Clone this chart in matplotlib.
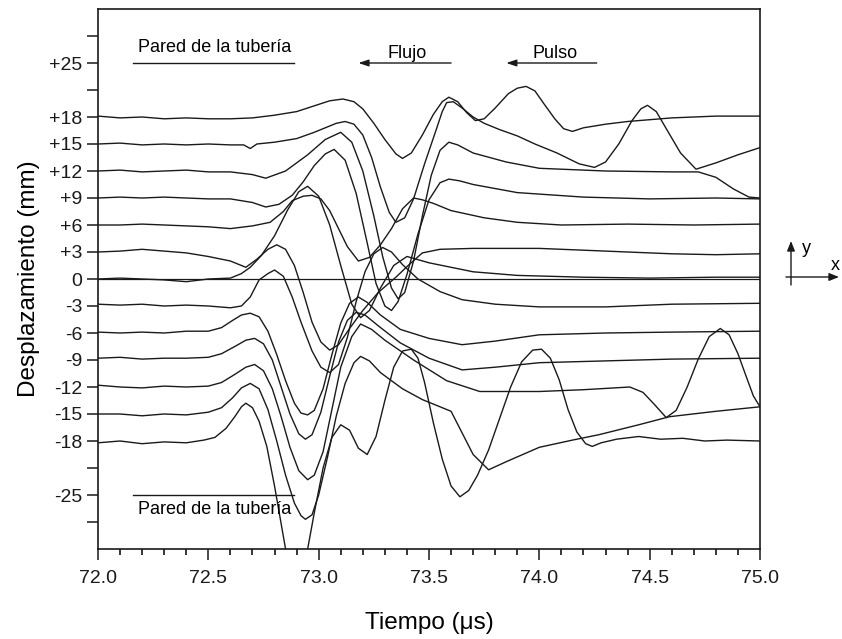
import matplotlib
matplotlib.use("Agg")
import matplotlib.pyplot as plt
from matplotlib.ticker import MultipleLocator, FormatStrFormatter
from matplotlib.patches import FancyArrowPatch

plt.rcParams['font.family'] = ['Liberation Sans', 'DejaVu Sans']

# ---------------- data ----------------
ytick_pos = [-27, -24, -21, -18, -15, -12, -9, -6, -3, 0, 3, 6, 9, 12, 15, 18, 21, 24, 27]
ytick_lab = ['', '-25', '', '-18', '-15', '-12', '-9', '-6', '-3', '0',
             '+3', '+6', '+9', '+12', '+15', '+18', '', '+25', '']

t_p18 = [72.0, 72.1, 72.2, 72.3, 72.4, 72.5, 72.6, 72.7, 72.8, 72.9, 72.95, 73.0, 73.05, 73.11, 73.16, 73.2,
         73.25, 73.3, 73.35, 73.38, 73.42, 73.47, 73.52, 73.56, 73.59, 73.63, 73.67, 73.71, 73.75, 73.8, 73.86,
         73.9, 73.94, 73.98, 74.02, 74.07, 74.11, 74.15, 74.2, 74.3, 74.4, 74.5, 74.6, 74.7, 74.8, 74.9, 75.0]
y_p18 = [18.1, 17.9, 18.0, 17.8, 17.9, 17.8, 17.8, 17.9, 18.2, 18.6, 19.0, 19.4, 19.8, 20.0, 19.7, 18.9,
         17.3, 15.5, 13.9, 13.4, 14.0, 16.0, 18.3, 19.7, 20.2, 19.7, 18.5, 17.6, 17.8, 19.0, 20.6,
         21.2, 21.4, 20.9, 19.5, 17.8, 16.7, 16.4, 16.8, 17.2, 17.5, 17.7, 17.9, 18.0, 18.1, 18.1, 18.1]

t_p15 = [72.0, 72.1, 72.2, 72.3, 72.4, 72.5, 72.6, 72.66, 72.69, 72.72, 72.8, 72.9, 72.98, 73.04, 73.08, 73.12,
         73.16, 73.2, 73.24, 73.28, 73.32, 73.35, 73.39, 73.43, 73.48, 73.53, 73.56, 73.58, 73.61, 73.65, 73.7,
         73.75, 73.82, 73.9, 73.98, 74.08, 74.18, 74.25, 74.3, 74.36, 74.42, 74.46, 74.49, 74.53, 74.58, 74.64,
         74.71, 74.8, 74.9, 75.0]
y_p15 = [15.0, 15.1, 14.9, 15.0, 14.9, 15.0, 14.9, 14.9, 14.5, 15.0, 15.2, 15.6, 16.3, 16.9, 17.3, 17.5,
         17.2, 16.0, 13.5, 10.2, 7.4, 6.3, 6.8, 8.9, 12.8, 16.4, 18.6, 19.6, 19.7, 19.0, 18.0,
         17.3, 16.6, 15.9, 15.0, 14.0, 12.8, 12.4, 13.0, 15.0, 17.6, 18.9, 19.3, 18.6, 16.5, 14.0,
         12.2, 12.9, 13.8, 14.6]

t_p12 = [72.0, 72.1, 72.2, 72.3, 72.4, 72.5, 72.6, 72.7, 72.76, 72.85, 72.95, 73.03, 73.1, 73.15, 73.2, 73.25,
         73.29, 73.33, 73.36, 73.39, 73.43, 73.47, 73.51, 73.55, 73.59, 73.63, 73.7, 73.85, 74.0, 74.3, 74.6,
         74.72, 74.8, 74.88, 74.95, 75.0]
y_p12 = [12.0, 12.1, 11.9, 12.0, 12.1, 11.9, 11.9, 11.6, 11.2, 12.0, 13.8, 15.5, 16.3, 15.2, 12.0, 7.0,
         2.5, -1.0, -2.2, -1.5, 2.0, 7.0, 11.5, 14.3, 15.2, 14.9, 14.0, 13.0, 12.3, 12.0, 11.9,
         11.9, 11.3, 10.0, 9.1, 9.0]

t_p9 = [72.0, 72.1, 72.2, 72.3, 72.4, 72.5, 72.6, 72.7, 72.76, 72.82, 72.88, 72.93, 72.98, 73.03, 73.07, 73.12,
        73.17, 73.22, 73.26, 73.3, 73.33, 73.36, 73.4, 73.45, 73.5, 73.55, 73.59, 73.64, 73.7, 73.9, 74.2,
        74.5, 74.8, 75.0]
y_p9 = [9.0, 9.1, 9.0, 9.1, 9.0, 8.9, 8.9, 8.5, 8.0, 8.3, 9.3, 10.8, 12.6, 13.9, 14.4, 13.2,
        9.5, 4.0, -0.5, -3.0, -3.5, -2.5, 0.5, 5.0, 8.8, 10.7, 11.1, 10.9, 10.5, 9.6, 9.1,
        8.9, 9.0, 8.9]

t_p6 = [72.0, 72.1, 72.2, 72.3, 72.4, 72.5, 72.6, 72.7, 72.78, 72.84, 72.88, 72.93, 72.97, 73.01, 73.05, 73.09,
        73.13, 73.18, 73.23, 73.28, 73.33, 73.38, 73.43, 73.47, 73.52, 73.6, 73.75, 73.9, 74.1, 74.4, 74.7, 75.0]
y_p6 = [6.0, 6.0, 6.1, 6.0, 5.9, 5.8, 5.6, 5.9, 6.3, 7.5, 8.7, 9.2, 9.3, 8.9, 7.6, 5.6,
        3.6, 2.0, 2.4, 3.8, 5.6, 7.8, 9.0, 8.8, 8.4, 7.6, 6.8, 6.3, 6.0, 6.1, 6.0, 6.1]

t_p3 = [72.0, 72.1, 72.2, 72.3, 72.4, 72.5, 72.6, 72.67, 72.72, 72.77, 72.81, 72.85, 72.89, 72.93, 72.97, 73.01,
        73.05, 73.09, 73.14, 73.2, 73.27, 73.35, 73.41, 73.47, 73.55, 73.7, 74.0, 74.3, 74.6, 74.8, 75.0]
y_p3 = [3.0, 3.1, 3.3, 3.1, 2.9, 2.5, 2.0, 1.3, 2.2, 3.3, 3.8, 3.3, 1.5, -1.5, -4.8, -7.0,
        -7.9, -7.3, -5.5, -3.5, -1.5, 0.2, 1.6, 2.9, 3.3, 3.4, 3.4, 3.1, 2.8, 2.7, 2.8]

t_0 = [72.0, 72.1, 72.2, 72.3, 72.4, 72.5, 72.6, 72.65, 72.69, 72.74, 72.8, 72.86, 72.91, 72.95, 73.0, 73.05,
       73.1, 73.15, 73.19, 73.23, 73.28, 73.34, 73.4, 73.5, 73.7, 73.9, 74.2, 74.5, 74.8, 75.0]
y_0 = [0.0, 0.1, 0.0, -0.1, -0.3, 0.0, 0.1, 0.6, 1.3, 2.6, 4.8, 7.7, 9.7, 10.3, 9.2, 6.0,
       1.5, -2.8, -4.3, -3.5, -1.0, 1.5, 2.5, 1.8, 0.8, 0.4, 0.2, 0.1, 0.2, 0.2]

t_m3 = [72.0, 72.1, 72.2, 72.3, 72.4, 72.5, 72.6, 72.65, 72.69, 72.73, 72.77, 72.8, 72.84, 72.88, 72.92, 72.97,
        73.01, 73.05, 73.09, 73.13, 73.17, 73.21, 73.25, 73.29, 73.33, 73.38, 73.45, 73.55, 73.65, 73.8, 74.0,
        74.3, 74.6, 75.0]
y_m3 = [-2.8, -2.9, -2.8, -3.0, -2.9, -3.0, -3.2, -3.0, -2.0, -0.1, 0.6, 1.0, 0.3, -2.0, -4.8, -8.0,
        -9.8, -10.4, -9.5, -6.5, -2.5, 0.8, 2.8, 3.5, 3.0, 1.6, 0.0, -1.4, -2.3, -2.8, -3.1,
        -3.1, -2.8, -2.7]

t_m6 = [72.0, 72.1, 72.2, 72.3, 72.4, 72.5, 72.56, 72.61, 72.65, 72.69, 72.73, 72.77, 72.81, 72.85, 72.89, 72.92,
        72.95, 72.98, 73.02, 73.06, 73.1, 73.14, 73.18, 73.22, 73.28, 73.37, 73.5, 73.65, 73.8, 74.0, 74.3,
        74.6, 75.0]
y_m6 = [-5.9, -6.0, -5.9, -6.0, -5.8, -5.8, -5.4, -4.6, -4.0, -3.8, -4.2, -5.8, -8.4, -11.3, -13.8, -14.9,
        -15.1, -14.6, -12.2, -8.4, -4.9, -2.7, -2.0, -2.6, -4.0, -5.6, -6.6, -7.3, -6.9, -6.2, -6.0,
        -5.9, -5.8]

t_m9 = [72.0, 72.1, 72.2, 72.3, 72.4, 72.5, 72.56, 72.62, 72.67, 72.71, 72.75, 72.79, 72.83, 72.87, 72.91, 72.94,
        72.97, 73.01, 73.05, 73.09, 73.13, 73.17, 73.21, 73.27, 73.37, 73.5, 73.65, 73.8, 74.0, 74.3, 74.6, 75.0]
y_m9 = [-8.8, -8.7, -8.9, -8.8, -8.8, -8.7, -8.3, -7.5, -6.8, -6.6, -7.2, -9.0, -12.0, -15.0, -17.2, -17.8,
        -17.3, -14.8, -10.8, -7.0, -4.6, -3.7, -4.0, -5.2, -7.1, -8.8, -10.1, -9.8, -9.3, -9.1, -8.9, -8.8]

t_m12 = [72.0, 72.1, 72.2, 72.3, 72.4, 72.5, 72.56, 72.62, 72.67, 72.71, 72.75, 72.79, 72.83, 72.87, 72.91, 72.95,
         72.98, 73.02, 73.06, 73.1, 73.15, 73.19, 73.24, 73.3, 73.43, 73.58, 73.73, 74.0, 74.2, 74.41, 74.47,
         74.52, 74.575, 74.62, 74.67, 74.72, 74.77, 74.82, 74.86, 74.9, 74.94, 74.97, 75.0]
y_m12 = [-11.8, -12.0, -12.1, -11.9, -12.0, -11.9, -11.5, -10.6, -9.8, -9.5, -10.2, -12.2, -15.3, -18.7, -21.3, -22.3,
         -21.8, -19.2, -14.5, -9.8, -6.4, -5.0, -5.6, -6.8, -9.0, -11.3, -12.5, -12.5, -12.3, -12.0, -12.6,
         -13.9, -15.4, -14.6, -12.0, -8.9, -6.4, -5.5, -6.2, -8.3, -11.0, -13.0, -14.2]

t_m15 = [72.0, 72.1, 72.2, 72.3, 72.4, 72.5, 72.56, 72.61, 72.65, 72.69, 72.73, 72.77, 72.81, 72.85, 72.89, 72.92,
         72.94, 72.97, 73.0, 73.04, 73.08, 73.12, 73.16, 73.19, 73.23, 73.28, 73.38, 73.47, 73.55, 73.6, 73.65,
         73.7, 73.77, 73.85, 74.0, 74.15, 74.27, 74.45, 74.59, 74.8, 75.0]
y_m15 = [-15.0, -15.0, -15.2, -15.0, -15.1, -14.8, -14.3, -13.2, -12.1, -11.6, -12.2, -14.5, -18.0, -21.8, -24.9, -26.3,
         -26.7, -26.2, -24.0, -19.8, -15.2, -11.6, -9.3, -8.6, -9.1, -10.4, -12.2, -13.4, -14.2, -14.7, -17.1,
         -19.5, -21.2, -20.3, -18.7, -17.9, -17.3, -16.2, -15.3, -14.7, -14.2]

t_m18 = [72.0, 72.1, 72.2, 72.3, 72.4, 72.48, 72.53, 72.58, 72.62, 72.65, 72.67, 72.7, 72.73, 72.765, 72.8, 72.85,
         72.9, 72.95, 72.98, 73.02, 73.06, 73.1, 73.14, 73.18, 73.22, 73.26, 73.3, 73.34, 73.38, 73.42, 73.45,
         73.48, 73.52, 73.56, 73.6, 73.64, 73.68, 73.72, 73.77, 73.82, 73.87, 73.92, 73.97, 74.01, 74.05, 74.09,
         74.13, 74.17, 74.21, 74.24, 74.28, 74.35, 74.45, 74.55, 74.65, 74.75, 74.85, 75.0]
y_m18 = [-18.2, -18.0, -18.3, -18.1, -18.2, -17.9, -17.6, -16.6, -15.3, -14.2, -13.8, -14.3, -15.8, -18.6, -23.0, -30.0,
         -32.0, -30.0, -26.0, -21.0, -17.6, -16.2, -16.8, -18.8, -19.5, -17.5, -13.5, -9.8, -8.0, -7.8, -8.8,
         -11.5, -16.0, -20.0, -23.0, -24.2, -23.5, -21.8, -19.0, -15.5, -12.0, -9.2, -7.9, -7.8, -8.8, -11.2,
         -14.5, -17.0, -18.3, -18.6, -18.2, -17.8, -17.5, -17.8, -17.7, -18.0, -17.9, -18.0]

traces = [(t_p18, y_p18), (t_p15, y_p15), (t_p12, y_p12), (t_p9, y_p9), (t_p6, y_p6), (t_p3, y_p3),
          (t_0, y_0), (t_m3, y_m3), (t_m6, y_m6), (t_m9, y_m9), (t_m12, y_m12), (t_m15, y_m15), (t_m18, y_m18)]

# ---------------- figure ----------------
W, H = 842, 639
fig = plt.figure(figsize=(W / 100, H / 100), dpi=100)
ax = fig.add_axes([98 / W, (H - 549) / H, 662 / W, 540 / H])

for t, y in traces:
    ax.plot(t, y, color='#1a1a1a', lw=1.0, solid_joinstyle='round')
ax.axhline(0, color='#1a1a1a', lw=0.9)

ax.set_xlim(72.0, 75.0)
ax.set_ylim(-30, 30)
ax.xaxis.set_major_locator(MultipleLocator(0.5))
ax.xaxis.set_minor_locator(MultipleLocator(0.1))
ax.xaxis.set_major_formatter(FormatStrFormatter('%.1f'))
ax.set_yticks(ytick_pos)
ax.set_yticklabels(ytick_lab)
ax.tick_params(axis='both', which='major', direction='out', length=8, width=1.1, labelsize=14, colors='#1a1a1a')
ax.tick_params(axis='x', which='minor', direction='out', length=4.5, width=1.1)
ax.tick_params(axis='x', which='major', pad=7)
for s in ax.spines.values():
    s.set_linewidth(1.2)
    s.set_color('#1a1a1a')

ax.set_xlabel('Tiempo (\u03bcs)', fontsize=17.5, labelpad=18)
ax.set_ylabel('Desplazamiento (mm)', fontsize=17.5, labelpad=6)

# annotations
ax.text(72.18, 25.7, 'Pared de la tubería', fontsize=13, va='center', ha='left')
ax.plot([72.16, 72.89], [24, 24], color='#1a1a1a', lw=1.0)
ax.text(72.18, -25.6, 'Pared de la tubería', fontsize=13, va='center', ha='left')
ax.plot([72.16, 72.89], [-24, -24], color='#1a1a1a', lw=1.0)

arrow_kw = dict(arrowstyle='-|>,head_length=0.6,head_width=0.2', color='#1a1a1a', lw=1.0, shrinkA=0, shrinkB=0)
ax.annotate('', xy=(73.18, 24.0), xytext=(73.60, 24.0), arrowprops=arrow_kw)
ax.text(73.40, 25.1, 'Flujo', fontsize=13, ha='center', va='center')
ax.annotate('', xy=(73.85, 24.0), xytext=(74.26, 24.0), arrowprops=arrow_kw)
ax.text(74.07, 25.1, 'Pulso', fontsize=13, ha='center', va='center')

# small axis indicator at right
ind_kw = dict(arrowstyle='-|>,head_length=0.45,head_width=0.18', color='#1a1a1a', lw=1.0,
              shrinkA=0, shrinkB=0, mutation_scale=13)
fig.add_artist(FancyArrowPatch((791 / W, (H - 285) / H), (791 / W, (H - 241) / H),
                               transform=fig.transFigure, **ind_kw))
fig.add_artist(FancyArrowPatch((786 / W, (H - 277) / H), (839 / W, (H - 277) / H),
                               transform=fig.transFigure, **ind_kw))
fig.text(802 / W, (H - 248) / H, 'y', fontsize=13, ha='left', va='center')
fig.text(835 / W, (H - 265) / H, 'x', fontsize=13, ha='center', va='center')

fig.savefig('out.png', dpi=100)
